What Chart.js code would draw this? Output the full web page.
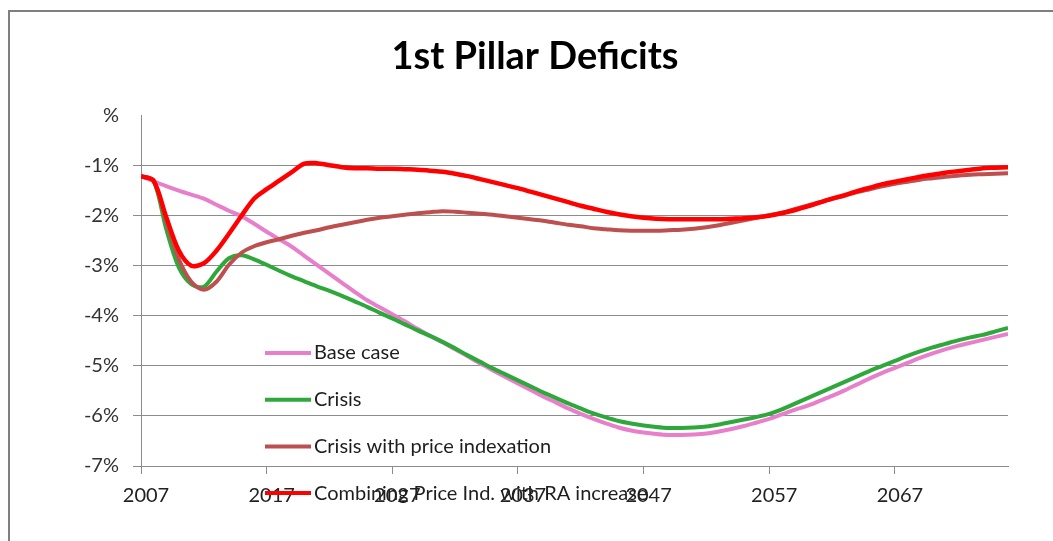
<!DOCTYPE html>
<html>
<head>
<meta charset="utf-8">
<title>1st Pillar Deficits</title>
<script src="https://cdn.jsdelivr.net/npm/chart.js@4.4.1/dist/chart.umd.min.js"></script>
<style>
  html, body { margin: 0; padding: 0; background: #fff; }
  #wrap { position: relative; width: 1053px; height: 541px; }
</style>
</head>
<body>
<div id="wrap"><canvas id="deficitChart" width="1053" height="541"></canvas></div>
<script>
// years on the x axis
const years = [
  2007, 2008, 2009, 2010, 2011, 2012, 2013, 2014, 2015, 2016,
  2017, 2018, 2019, 2020, 2021, 2022, 2023, 2024, 2025, 2026,
  2027, 2028, 2029, 2030, 2031, 2032, 2033, 2034, 2035, 2036,
  2037, 2038, 2039, 2040, 2041, 2042, 2043, 2044, 2045, 2046,
  2047, 2048, 2049, 2050, 2051, 2052, 2053, 2054, 2055, 2056,
  2057, 2058, 2059, 2060, 2061, 2062, 2063, 2064, 2065, 2066,
  2067, 2068, 2069, 2070, 2071, 2072, 2073, 2074, 2075, 2076
];
const tickYears = [2007, 2017, 2027, 2037, 2047, 2057, 2067];
const yTickValues = [0, -1, -2, -3, -4, -5, -6, -7];
const yTickLabels = ['%', '-1%', '-2%', '-3%', '-4%', '-5%', '-6%', '-7%'];

const seriesNames = ['Base case', 'Crisis', 'Crisis with price indexation', 'Combining Price Ind. with RA increase'];

// deficit in %
const baseCase = [
  -1.21, -1.31, -1.41, -1.50, -1.58, -1.66, -1.78, -1.90, -2.01, -2.16,
  -2.32, -2.47, -2.62, -2.80, -2.98, -3.16, -3.34, -3.52, -3.69, -3.83,
  -3.97, -4.11, -4.26, -4.40, -4.53, -4.67, -4.81, -4.95, -5.09, -5.22,
  -5.35, -5.48, -5.61, -5.73, -5.85, -5.96, -6.06, -6.15, -6.23, -6.29,
  -6.33, -6.36, -6.38, -6.38, -6.37, -6.35, -6.31, -6.26, -6.20, -6.13,
  -6.06, -5.97, -5.88, -5.80, -5.70, -5.60, -5.49, -5.37, -5.25, -5.14,
  -5.04, -4.94, -4.84, -4.75, -4.67, -4.60, -4.54, -4.48, -4.42, -4.36
];
const crisis = [
  -1.21, -1.30, -2.26, -3.03, -3.37, -3.42, -3.12, -2.85, -2.79, -2.87,
  -2.98, -3.10, -3.21, -3.31, -3.41, -3.50, -3.60, -3.71, -3.82, -3.94,
  -4.05, -4.17, -4.29, -4.40, -4.52, -4.65, -4.79, -4.92, -5.05, -5.17,
  -5.29, -5.41, -5.53, -5.64, -5.75, -5.85, -5.95, -6.03, -6.10, -6.15,
  -6.19, -6.22, -6.24, -6.24, -6.23, -6.21, -6.17, -6.12, -6.07, -6.02,
  -5.96, -5.87, -5.76, -5.65, -5.54, -5.43, -5.32, -5.21, -5.10, -5.00,
  -4.90, -4.80, -4.71, -4.63, -4.56, -4.49, -4.43, -4.38, -4.31, -4.24
];
const crisisPriceIdx = [
  -1.21, -1.30, -2.10, -2.86, -3.32, -3.48, -3.32, -2.98, -2.74, -2.61,
  -2.53, -2.47, -2.40, -2.34, -2.29, -2.23, -2.18, -2.13, -2.08, -2.04,
  -2.01, -1.98, -1.95, -1.93, -1.91, -1.92, -1.94, -1.96, -1.98, -2.01,
  -2.04, -2.07, -2.10, -2.14, -2.18, -2.21, -2.25, -2.27, -2.29, -2.30,
  -2.30, -2.30, -2.29, -2.28, -2.26, -2.23, -2.19, -2.14, -2.09, -2.04,
  -1.99, -1.94, -1.87, -1.80, -1.73, -1.66, -1.60, -1.53, -1.47, -1.41,
  -1.36, -1.32, -1.28, -1.25, -1.22, -1.20, -1.18, -1.17, -1.16, -1.15
];
const combined = [
  -1.21, -1.30, -2.02, -2.69, -3.00, -2.95, -2.70, -2.36, -2.00, -1.66,
  -1.47, -1.30, -1.13, -0.96, -0.95, -0.99, -1.03, -1.05, -1.05, -1.06,
  -1.06, -1.07, -1.08, -1.10, -1.12, -1.16, -1.21, -1.27, -1.33, -1.39,
  -1.45, -1.52, -1.59, -1.66, -1.73, -1.80, -1.86, -1.92, -1.97, -2.01,
  -2.04, -2.06, -2.07, -2.07, -2.07, -2.07, -2.07, -2.06, -2.05, -2.03,
  -2.00, -1.95, -1.89, -1.82, -1.74, -1.66, -1.59, -1.51, -1.44, -1.37,
  -1.32, -1.27, -1.22, -1.18, -1.14, -1.11, -1.08, -1.05, -1.04, -1.03
];

const seriesValues = [baseCase, crisis, crisisPriceIdx, combined];
const seriesColors = ['#e87fcb', '#2ea83a', '#bd4f4f', '#ff0000'];
const gridGray = '#8c8c8c';

// thin frame on the left and top like the original slide
const framePlugin = {
  id: 'frame',
  beforeDraw(chart) {
    const c = chart.ctx;
    c.save();
    c.fillStyle = '#fff';
    c.fillRect(0, 0, chart.width, chart.height);
    c.strokeStyle = '#7f7f7f';
    c.lineWidth = 2;
    c.beginPath();
    c.moveTo(9, chart.height);
    c.lineTo(9, 11);
    c.lineTo(chart.width, 11);
    c.stroke();
    c.restore();
  }
};

// legend sits inside the plot area, stacked on the left
const insideLegend = {
  id: 'insideLegend',
  afterDraw(chart) {
    const c = chart.ctx;
    c.save();
    c.font = '20px Lato';
    c.textBaseline = 'middle';
    chart.data.datasets.forEach((ds, i) => {
      const y = 353 + i * 46.7;
      c.strokeStyle = ds.borderColor;
      c.lineWidth = 4;
      c.beginPath();
      c.moveTo(265, y);
      c.lineTo(311, y);
      c.stroke();
      c.fillStyle = '#1e1e1e';
      c.fillText(ds.label, 314, y);
    });
    c.restore();
  }
};

const ctx = document.getElementById('deficitChart').getContext('2d');
new Chart(ctx, {
  type: 'line',
  data: {
    datasets: seriesValues.map((vals, i) => ({
      label: seriesNames[i],
      data: years.map((yr, j) => ({ x: yr, y: vals[j] })),
      borderColor: seriesColors[i],
      borderWidth: i === 3 ? 4.5 : 4,
      pointRadius: 0,
      tension: 0.3,
      fill: false,
      order: 3 - i
    }))
  },
  options: {
    responsive: false,
    animation: false,
    layout: { padding: { left: 62, right: 45, top: 0, bottom: 0 } },
    plugins: {
      legend: { display: false },
      tooltip: { enabled: false },
      title: {
        display: true,
        text: '1st Pillar Deficits',
        color: '#000',
        font: { family: 'Lato', size: 38, weight: 'bold' },
        padding: { top: 34, bottom: 36 }
      }
    },
    scales: {
      x: {
        type: 'linear',
        min: years[0],
        max: years[years.length - 1],
        afterBuildTicks: s => { s.ticks = tickYears.map(v => ({ value: v })); },
        afterFit: s => { s.height = 75; },
        grid: { drawOnChartArea: false, drawTicks: true, tickLength: 8, color: gridGray },
        border: { color: gridGray, width: 1 },
        ticks: {
          padding: 10,
          labelOffset: 5,
          maxRotation: 0,
          color: '#222',
          font: { family: 'Lato', size: 20 },
          callback: v => String(v)
        }
      },
      y: {
        min: -7,
        max: 0,
        afterBuildTicks: s => { s.ticks = yTickValues.map(v => ({ value: v })); },
        afterFit: s => { s.width = 79; },
        grid: {
          color: c => (c.tick && c.tick.value === 0) ? 'rgba(0,0,0,0)' : gridGray,
          tickLength: 8
        },
        border: { color: gridGray, width: 1 },
        ticks: {
          padding: 14,
          color: '#333',
          font: { family: 'Lato', size: 20 },
          callback: v => yTickLabels[yTickValues.indexOf(v)]
        }
      }
    }
  },
  plugins: [framePlugin, insideLegend]
});
</script>
</body>
</html>
